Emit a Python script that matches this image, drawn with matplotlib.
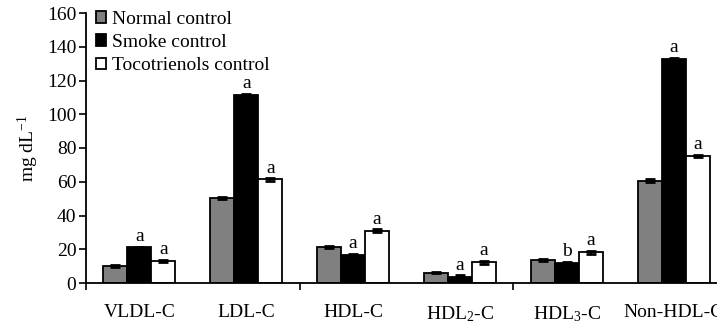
import matplotlib
matplotlib.use("Agg")
import matplotlib.pyplot as plt
import numpy as np

plt.rcParams['font.family'] = ['Liberation Serif', 'DejaVu Serif']
plt.rcParams['mathtext.fontset'] = 'custom'
plt.rcParams['mathtext.rm'] = 'Liberation Serif'
plt.rcParams['mathtext.it'] = 'Liberation Serif:italic'

categories = ['VLDL-C', 'LDL-C', 'HDL-C', 'HDL$_2$-C', 'HDL$_3$-C', 'Non-HDL-C']
series_names = ['Normal control', 'Smoke control', 'Tocotrienols control']
normal = [10.1, 50.6, 21.2, 6.1, 13.6, 60.6]
smoke = [21.1, 111.6, 16.6, 3.8, 12.0, 132.8]
toco = [13.0, 61.4, 31.0, 12.2, 18.2, 75.3]
normal_err = [0.8, 0.6, 0.6, 0.4, 0.7, 0.8]
smoke_err = [0.4, 0.5, 0.6, 0.8, 0.7, 0.6]
toco_err = [0.8, 0.7, 0.8, 0.8, 0.8, 0.6]
smoke_sig = ['a', 'a', 'a', 'a', 'b', 'a']
toco_sig = ['a', 'a', 'a', 'a', 'a', 'a']
yticks = [0, 20, 40, 60, 80, 100, 120, 140, 160]

FS = 14

fig = plt.figure(figsize=(7.17, 3.26), dpi=100)
ax = fig.add_axes([86/717, 1-283/326, 641/717, 270/326])

x = np.arange(len(categories))
w = 0.225
colors = ['#808080', '#000000', '#ffffff']
datas = [normal, smoke, toco]
errs = [normal_err, smoke_err, toco_err]
for i, (d, e, c, n) in enumerate(zip(datas, errs, colors, series_names)):
    xs = x + (i - 1) * w
    ax.bar(xs, d, width=w, color=c, edgecolor='black', linewidth=1.3, label=n, zorder=2)
    ax.errorbar(xs, d, yerr=e, fmt='none', ecolor='black', elinewidth=1.5,
                capsize=3.5, capthick=2.0, zorder=3)

for xi, v, e, s in zip(x, smoke, smoke_err, smoke_sig):
    ax.text(xi, v + e + 1.0, s, ha='center', va='bottom', fontsize=FS)
for xi, v, e, s in zip(x + w, toco, toco_err, toco_sig):
    ax.text(xi, v + e + 1.0, s, ha='center', va='bottom', fontsize=FS)

ax.set_xlim(-0.5, 5.5)
ax.set_ylim(0, 160)
ax.set_yticks(yticks)
ax.tick_params(axis='y', direction='out', length=5, width=1.2, labelsize=FS, pad=2)
ax.set_xticks([-0.5, 1.5, 3.5, 5.5])
ax.set_xticklabels([])
ax.tick_params(axis='x', which='major', direction='out', length=5, width=1.2)
ax.set_xticks(x, minor=True)
ax.set_xticklabels(categories, minor=True)
ax.tick_params(axis='x', which='minor', length=0, labelsize=FS, pad=15)

for s in ['top', 'right']:
    ax.spines[s].set_visible(False)
for s in ['left', 'bottom']:
    ax.spines[s].set_linewidth(1.3)

ax.set_ylabel('mg dL$^{-1}$', fontsize=FS, labelpad=4)

leg = ax.legend(loc='upper left', bbox_to_anchor=(0.015, 1.008), frameon=False, fontsize=FS,
                handlelength=0.55, handleheight=0.55, handletextpad=0.3, labelspacing=0.32,
                borderaxespad=0, borderpad=0)

fig.savefig('out.png', dpi=100)
